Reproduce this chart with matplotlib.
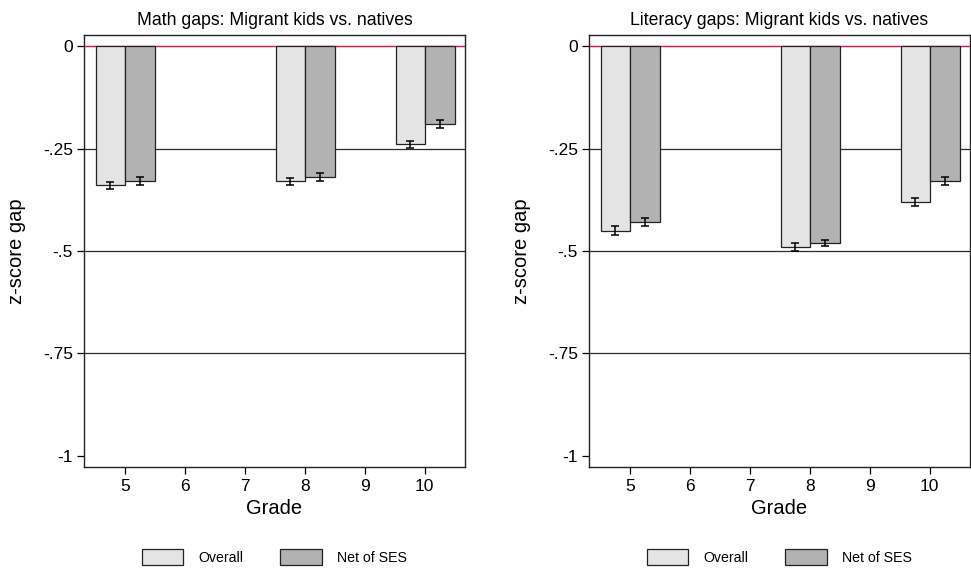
import numpy as np
import matplotlib
matplotlib.use('Agg')
import matplotlib.pyplot as plt
from matplotlib.patches import Patch

plt.rcParams['font.family'] = ['Liberation Sans', 'DejaVu Sans']

grades = [5, 8, 10]
titles = ['Math gaps: Migrant kids vs. natives', 'Literacy gaps: Migrant kids vs. natives']

# 값
math_overall = [-0.34, -0.33, -0.24]
math_net = [-0.33, -0.32, -0.19]
math_overall_err = [0.009, 0.009, 0.009]
math_net_err = [0.01, 0.01, 0.01]

lit_overall = [-0.45, -0.49, -0.38]
lit_net = [-0.43, -0.48, -0.33]
lit_overall_err = [0.01, 0.01, 0.009]
lit_net_err = [0.01, 0.008, 0.01]

yticks = [0, -0.25, -0.5, -0.75, -1]
ylabels = ['0', '-.25', '-.5', '-.75', '-1']
xticks = [5, 6, 7, 8, 9, 10]

c_overall = '#e4e4e4'
c_net = '#b2b2b2'

fig = plt.figure(figsize=(9.71, 5.72), dpi=100)
W, H = 971, 572
panels = [
    (math_overall, math_net, math_overall_err, math_net_err, 84),
    (lit_overall, lit_net, lit_overall_err, lit_net_err, 589),
]

for i, (ov, nt, ove, nte, left) in enumerate(panels):
    ax = fig.add_axes([left / W, (H - 467) / H, 381 / W, 432 / H])
    x = np.array(grades)
    w = 0.485
    ax.bar(x - w / 2, ov, w, color=c_overall, edgecolor='#222222', linewidth=0.9, zorder=2)
    ax.bar(x + w / 2 + 0.01, nt, w, color=c_net, edgecolor='#222222', linewidth=0.9, zorder=2)
    ax.errorbar(x - w / 2, ov, yerr=ove, fmt='none', ecolor='black', elinewidth=1.1, capsize=3, capthick=1.1, zorder=3)
    ax.errorbar(x + w / 2 + 0.01, nt, yerr=nte, fmt='none', ecolor='black', elinewidth=1.1, capsize=3, capthick=1.1, zorder=3)
    for yv in yticks[1:-1]:
        ax.axhline(yv, color='#2a2a2a', linewidth=0.9, zorder=1)
    ax.axhline(0, color='#d8153f', linewidth=1.0, zorder=1.5)

    ax.set_xlim(4.32, 10.67)
    ax.set_ylim(-1.027, 0.027)
    ax.set_yticks(yticks)
    ax.set_yticklabels(ylabels)
    ax.set_xticks(xticks)
    ax.tick_params(axis='both', direction='out', length=5, width=0.9, labelsize=12.5, colors='black')
    ax.tick_params(axis='y', pad=3)
    for s in ax.spines.values():
        s.set_linewidth(1.0)
        s.set_color('#222222')
    ax.set_title(titles[i], fontsize=12.7, pad=7)
    ax.set_xlabel('Grade', fontsize=14.5, labelpad=4)
    ax.set_ylabel('z-score gap', fontsize=14.5, labelpad=12)

    handles = [Patch(facecolor=c_overall, edgecolor='#222222', linewidth=0.9),
               Patch(facecolor=c_net, edgecolor='#222222', linewidth=0.9)]
    ax.legend(handles, ['Overall', 'Net of SES'], loc='upper center',
              bbox_to_anchor=(0.5, -0.16), ncol=2, frameon=False, fontsize=10.2,
              handlelength=2.9, handleheight=1.35, columnspacing=2.6, handletextpad=1.1)

plt.savefig('out.png', dpi=100)
